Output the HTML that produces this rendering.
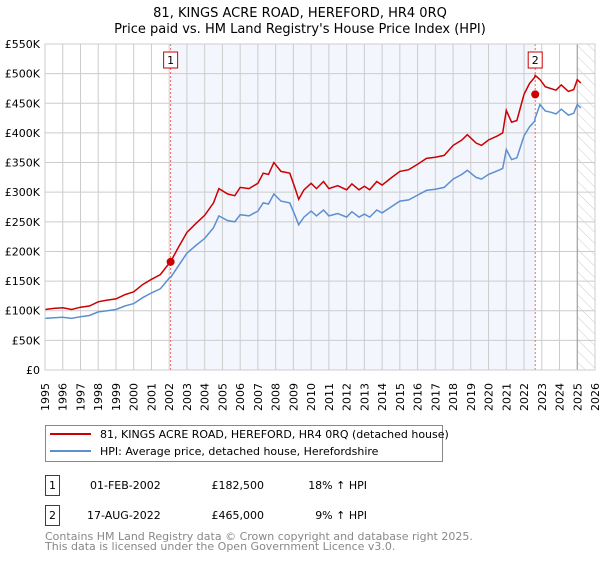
<!DOCTYPE html>
<html><head><meta charset="utf-8"><style>
body{margin:0;background:#fff;font-family:"DejaVu Sans","Liberation Sans",sans-serif}
svg text{font-family:"DejaVu Sans","Liberation Sans",sans-serif}
</style></head><body>
<svg id="c" width="600" height="560" viewBox="0 0 600 560">
<defs><pattern id="h" width="8" height="8" patternUnits="userSpaceOnUse" patternTransform="rotate(-45)"><line x1="0" y1="0" x2="0" y2="8" stroke="#ccc" stroke-width="1"/></pattern></defs>
<text x="300" y="17" text-anchor="middle" font-size="13">81, KINGS ACRE ROAD, HEREFORD, HR4 0RQ</text>
<text x="300" y="33" text-anchor="middle" font-size="13">Price paid vs. HM Land Registry's House Price Index (HPI)</text>
<g id="plot"></g>
<g>
<rect x="45.5" y="425.5" width="397" height="36" fill="#fff" stroke="#888"/>
<line x1="50" y1="434" x2="91" y2="434" stroke="#cc0000" stroke-width="2"/>
<text x="100" y="438" font-size="11">81, KINGS ACRE ROAD, HEREFORD, HR4 0RQ (detached house)</text>
<line x1="50" y1="451" x2="91" y2="451" stroke="#5b8fd0" stroke-width="2"/>
<text x="100" y="455" font-size="11">HPI: Average price, detached house, Herefordshire</text>
</g>
<g font-size="11">
<rect x="45.5" y="475.5" width="14" height="20" fill="#fff" stroke="#cc0000"/><text x="52.5" y="489" text-anchor="middle">1</text>
<text x="90" y="489">01-FEB-2002</text><text x="264" y="489" text-anchor="end">£182,500</text><text x="367" y="489" text-anchor="end">18% ↑ HPI</text>
<rect x="45.5" y="505.5" width="14" height="20" fill="#fff" stroke="#cc0000"/><text x="52.5" y="519" text-anchor="middle">2</text>
<text x="87" y="519">17-AUG-2022</text><text x="264" y="519" text-anchor="end">£465,000</text><text x="367" y="519" text-anchor="end">9% ↑ HPI</text>
</g>
<text x="45" y="540" font-size="11" fill="#888">Contains HM Land Registry data © Crown copyright and database right 2025.</text>
<text x="45" y="550" font-size="11" fill="#888">This data is licensed under the Open Government Licence v3.0.</text>
</svg>
<script>
const dates=[1995.0,1995.5,1996.0,1996.5,1997.0,1997.5,1998.0,1998.5,1999.0,1999.5,2000.0,2000.5,2001.0,2001.5,2002.0,2002.08,2002.5,2003.0,2003.5,2004.0,2004.5,2004.8,2005.3,2005.7,2006.0,2006.5,2007.0,2007.3,2007.6,2007.9,2008.3,2008.8,2009.1,2009.3,2009.6,2010.0,2010.3,2010.7,2011.0,2011.5,2012.0,2012.3,2012.7,2013.0,2013.3,2013.7,2014.0,2014.5,2015.0,2015.5,2016.0,2016.5,2017.0,2017.5,2018.0,2018.5,2018.8,2019.3,2019.6,2020.0,2020.5,2020.8,2021.0,2021.3,2021.6,2022.0,2022.3,2022.6,2022.63,2022.9,2023.2,2023.5,2023.8,2024.1,2024.5,2024.8,2025.0,2025.2];
const hpi=[87,88,89,87,90,92,98,100,102,108,112,122,130,137,155,156,175,197,210,222,240,260,252,250,262,260,268,282,280,297,285,282,260,245,258,268,260,270,260,264,258,267,258,263,258,270,265,275,285,287,295,303,305,308,322,330,337,325,322,330,336,340,372,355,358,395,410,420,425,448,437,435,432,440,430,433,448,442];
const price=[102,104,105,102,106,108,115,118,120,127,132,144,153,161,180,182.5,206,232,247,261,282,306,297,294,308,306,315,332,330,350,335,332,306,288,304,315,306,318,306,311,304,314,304,310,304,318,312,324,335,338,347,357,359,362,379,388,397,383,379,388,395,400,438,418,421,465,483,494,497,490,478,475,472,481,470,473,490,484];
const sales=[[2002.08,182.5,"1"],[2022.63,465,"2"]];
const yTicks=[0,50,100,150,200,250,300,350,400,450,500,550];
const xTicks=[1995,1996,1997,1998,1999,2000,2001,2002,2003,2004,2005,2006,2007,2008,2009,2010,2011,2012,2013,2014,2015,2016,2017,2018,2019,2020,2021,2022,2023,2024,2025,2026];
const X0=45,X1=595,Y0=370,Y1=44;
const x=v=>X0+(v-1995)/(2026-1995)*(X1-X0);
const y=v=>Y0-v/550*(Y0-Y1);
const g=document.getElementById('plot');const NS='http://www.w3.org/2000/svg';
function el(t,a,p){const e=document.createElementNS(NS,t);for(const k in a)e.setAttribute(k,a[k]);(p||g).appendChild(e);return e;}
const sh=el('rect',{x:x(sales[0][0]),y:Y1,width:x(sales[1][0])-x(sales[0][0]),height:Y0-Y1,fill:'#f3f6fd'});


const ht=el('rect',{x:x(2025.0),y:Y1,width:X1-x(2025.0),height:Y0-Y1,fill:'url(#h)'});


xTicks.forEach(t=>{const l=el('line',{x1:x(t),x2:x(t),y1:Y1,y2:Y0,stroke:'#ccc'});


const px=x(t)+4,py=Y0+13;
const tx=el('text',{x:px,y:py,'font-size':11,'text-anchor':'end',transform:'rotate(-90 '+px+' '+py+')'});tx.textContent=t;

});
yTicks.forEach(t=>{const l=el('line',{x1:X0,x2:X1,y1:y(t),y2:y(t),stroke:'#ccc'});


const tx=el('text',{x:X0-5,y:y(t)+4,'font-size':11,'text-anchor':'end'});tx.textContent=t===0?'£0':'£'+t+'K';

});
const vl=el('line',{x1:x(2025.0),x2:x(2025.0),y1:Y1,y2:Y0,stroke:'#999'});


sales.forEach(s=>{const l=el('line',{x1:x(s[0]),x2:x(s[0]),y1:Y1,y2:Y0,stroke:'#e66','stroke-dasharray':'2,2'});

});
const pts=a=>a.map((v,i)=>x(dates[i]).toFixed(1)+','+y(v).toFixed(1)).join(' ');
const bl=el('polyline',{points:pts(hpi),fill:'none',stroke:'#5b8fd0','stroke-width':1.5});


const rl=el('polyline',{points:pts(price),fill:'none',stroke:'#cc0000','stroke-width':1.5});


sales.forEach(s=>{const c=el('circle',{cx:x(s[0]),cy:y(s[1]),r:4,fill:'#cc0000'});


const bx=x(s[0])-7;const r=el('rect',{x:bx,y:52,width:14,height:16,fill:'#fff',stroke:'#cc0000'});


const t=el('text',{x:x(s[0]),y:64,'font-size':11,'text-anchor':'middle'});t.textContent=s[2];

});
const fr=el('rect',{x:X0,y:Y1,width:X1-X0,height:Y0-Y1,fill:'none',stroke:'#ccc'});


</script>
</body></html>
